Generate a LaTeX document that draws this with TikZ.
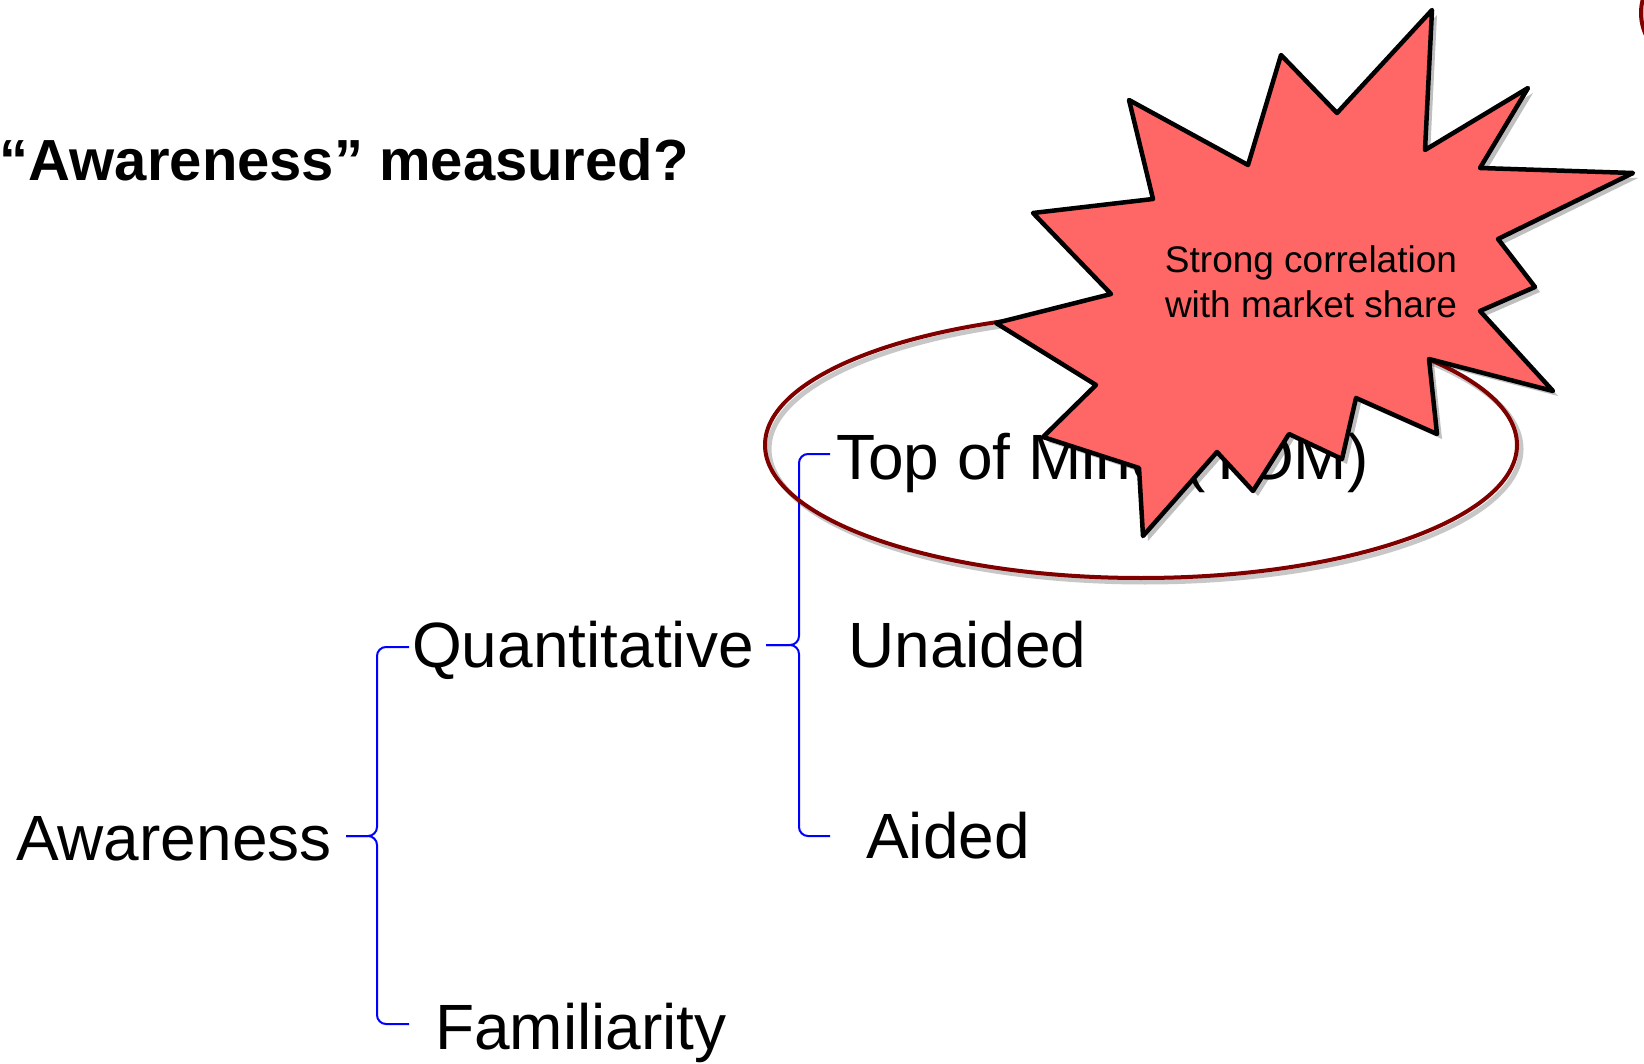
\documentclass[tikz,border=0pt]{standalone}
\usepackage{fontspec}
\setmainfont{Liberation Sans}
\usepackage{tikz}
\usetikzlibrary{positioning}
\definecolor{BurstRed}{RGB}{255,102,102}
\definecolor{OvalRed}{RGB}{128,0,0}
\definecolor{BraceBlue}{RGB}{0,0,255}
\tikzset{
	brace/.style={BraceBlue, line width=2pt, rounded corners=9pt},
	itemtext/.style={anchor=base west, inner sep=0pt, font=\fontsize{64}{77}\selectfont},
	oval/.style={OvalRed, line width=4pt},
	ovalshadow/.style={black, opacity=0.22, line width=5pt},
	burst/.style={fill=BurstRed, draw=black, line width=4.5pt, line join=round},
	burstshadow/.style={fill=black, opacity=0.25},
}
\newcommand{\burstpath}{(1432,10) -- (1425,150) -- (1528,88) -- (1480,168) -- (1633,173) -- (1498,239) -- (1535,287) -- (1480,311) -- (1553,391) -- (1429,359) -- (1437,434) -- (1356,398) -- (1342,459) -- (1289,434) -- (1253,491) -- (1217,452) -- (1143,536) -- (1139,468) -- (1043,437) -- (1096,385) -- (996,323) -- (1111,294) -- (1033,213) -- (1153,199) -- (1129,100) -- (1248,165) -- (1281,55) -- (1337,113) -- cycle}

\begin{document}
\begin{tikzpicture}[x=1pt, y=-1pt]
		\useasboundingbox (0,0) rectangle (1644,1064);
		\clip (0,0) rectangle (1644,1064);
		\fill[white] (0,0) rectangle (1644,1064);
		
		\coordinate (B1top) at (409,647);
		\coordinate (B1tip) at (346,836);
		\coordinate (B1bot) at (409,1024);
		\coordinate (B1x) at (377,0);
		\coordinate (B2top) at (830,454);
		\coordinate (B2tip) at (766,645);
		\coordinate (B2bot) at (830,836);
		\coordinate (B2x) at (799,0);
		
		\node[anchor=base east, inner sep=0pt, font=\bfseries\fontsize{58}{70}\selectfont] (title) at (689,181) {“Awareness” measured?};
		
		\node[itemtext] (aw) at (16,860) {Awareness};
		\node[itemtext] (quan) at (412,667) {Quantitative};
		\node[itemtext] (fam) at (435,1049) {Familiarity};
		\node[itemtext] (tom) at (836,479) {Top of Mind (TOM)};
		\node[itemtext] (unaid) at (848,667) {Unaided};
		\node[itemtext] (aid) at (866,858) {Aided};
		
		\draw[brace] (B1top) -- (B1x |- B1top) -- (B1x |- B1tip) -- (B1tip);
		\draw[brace] (B1tip) -- (B1x |- B1tip) -- (B1x |- B1bot) -- (B1bot);
		\draw[brace] (B2top) -- (B2x |- B2top) -- (B2x |- B2tip) -- (B2tip);
		\draw[brace] (B2tip) -- (B2x |- B2tip) -- (B2x |- B2bot) -- (B2bot);
		
		\draw[ovalshadow] (1145,449) ellipse [x radius=376, y radius=133];
		\draw[oval] (1141,445) ellipse [x radius=376, y radius=133];
		\draw[ovalshadow] (1715,17) ellipse [x radius=70, y radius=60];
		\draw[oval] (1711,13) ellipse [x radius=70, y radius=60];
		
		\begin{scope}[shift={(5,5)}]
			\fill[burstshadow] \burstpath;
		\end{scope}
		\draw[burst] \burstpath;
		\node[align=center, inner sep=0pt, font=\fontsize{37}{45}\selectfont] (corr) at (1311,282) {Strong correlation\\with market share};
	\end{tikzpicture}
\end{document}
